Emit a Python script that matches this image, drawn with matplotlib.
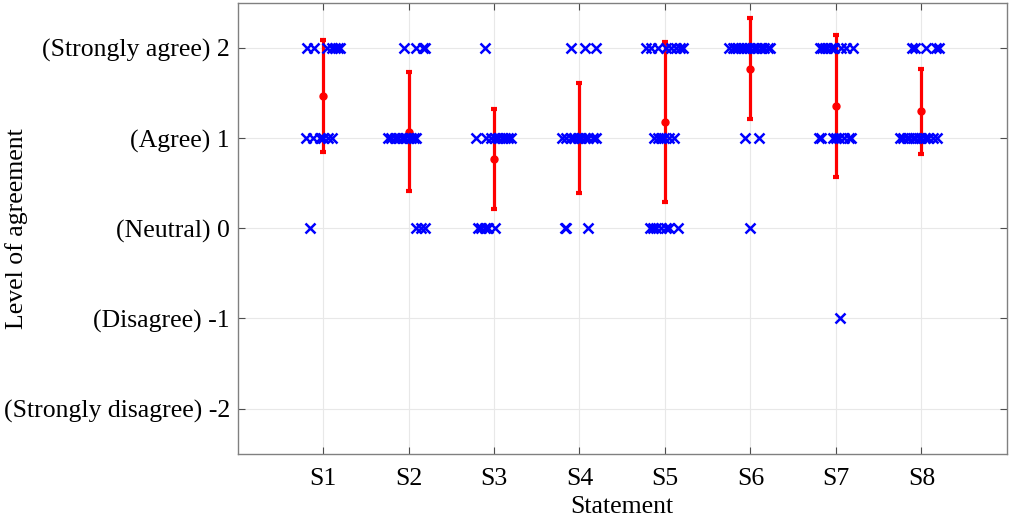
import numpy as np
import matplotlib
matplotlib.use("Agg")
import matplotlib.pyplot as plt

statements = ["S1", "S2", "S3", "S4", "S5", "S6", "S7", "S8"]
level_labels = ["(Strongly disagree) -2", "(Disagree) -1", "(Neutral) 0",
                "(Agree) 1", "(Strongly agree) 2"]
levels = [-2, -1, 0, 1, 2]

# answers of each statement: response level and horizontal jitter
resp_s1 = [2, 2, 2, 2, 2, 2, 2, 1, 1, 1, 1, 1, 1, 0]
jit_s1 = [-0.19, -0.11, 0.05, 0.10, 0.14, 0.17, 0.20, -0.20, -0.12, -0.04, 0.0, 0.06, 0.10, -0.15]
resp_s2 = [2, 2, 2, 2, 1, 1, 1, 1, 1, 1, 1, 1, 1, 1, 0, 0, 0]
jit_s2 = [-0.05, 0.085, 0.17, 0.19, -0.24, -0.2, -0.16, -0.12, -0.08, -0.04, 0.0, 0.03, 0.06, 0.09,
          0.09, 0.15, 0.19]
resp_s3 = [2, 1, 1, 1, 1, 1, 1, 1, 1, 1, 0, 0, 0, 0, 0]
jit_s3 = [-0.10, -0.21, -0.09, -0.03, 0.01, 0.05, 0.09, 0.125, 0.16, 0.2, -0.19, -0.15, -0.11, -0.07, 0.01]
resp_s4 = [2, 2, 2, 1, 1, 1, 1, 1, 1, 1, 1, 1, 1, 0, 0, 0]
jit_s4 = [-0.10, 0.07, 0.19, -0.21, -0.156, -0.10, -0.06, -0.02, 0.02, 0.06, 0.1, 0.155, 0.195,
          -0.175, -0.155, 0.10]
resp_s5 = [2, 2, 2, 2, 2, 2, 2, 2, 1, 1, 1, 1, 1, 1, 0, 0, 0, 0, 0, 0, 0]
jit_s5 = [-0.22, -0.165, -0.086, 0.01, 0.07, 0.13, 0.17, 0.21, -0.125, -0.086, -0.047, -0.008, 0.05, 0.11,
          -0.18, -0.145, -0.105, -0.047, 0.01, 0.05, 0.15]
resp_s6 = [2, 2, 2, 2, 2, 2, 2, 2, 2, 2, 2, 2, 2, 2, 1, 1, 0]
jit_s6 = [-0.25, -0.21, -0.18, -0.14, -0.11, -0.07, -0.04, 0.0, 0.04, 0.08, 0.12, 0.16, 0.2, 0.23,
          -0.06, 0.1, 0.0]
resp_s7 = [2, 2, 2, 2, 2, 2, 2, 2, 2, 1, 1, 1, 1, 1, 1, 1, 1, -1]
jit_s7 = [-0.19, -0.16, -0.125, -0.1, -0.06, -0.02, 0.06, 0.115, 0.195,
          -0.2, -0.175, -0.04, 0.0, 0.04, 0.1, 0.155, 0.175, 0.05]
resp_s8 = [2, 2, 2, 2, 2, 1, 1, 1, 1, 1, 1, 1, 1, 1, 1, 1, 1]
jit_s8 = [-0.11, -0.07, 0.05, 0.165, 0.2, -0.245, -0.21, -0.17, -0.14, -0.1, -0.07, -0.03, 0.0,
          0.04, 0.08, 0.13, 0.18]

responses = [resp_s1, resp_s2, resp_s3, resp_s4, resp_s5, resp_s6, resp_s7, resp_s8]
jitters = [jit_s1, jit_s2, jit_s3, jit_s4, jit_s5, jit_s6, jit_s7, jit_s8]

# mean and standard deviation per statement
means = [1.47, 1.07, 0.77, 1.0, 1.18, 1.77, 1.36, 1.30]
stds = [0.62, 0.66, 0.56, 0.61, 0.885, 0.56, 0.79, 0.47]

plt.rcParams['font.family'] = ['Liberation Serif', 'DejaVu Serif']

fig = plt.figure(figsize=(10.13, 5.19), dpi=100)
ax = fig.add_axes([0.2345, 0.126, 0.7595, 0.868])

pos = np.arange(1, len(statements) + 1)
ax.errorbar(pos, means, yerr=stds, fmt='o', color='red', ms=5, lw=2.3,
            capsize=2, capthick=3, zorder=2)
for i, (r, j) in enumerate(zip(responses, jitters)):
    ax.plot(pos[i] + np.array(j), r, 'x', color='blue', ms=6.5, mew=1.8, zorder=3)

ax.set_xlim(0, 9)
ax.set_ylim(-2.5, 2.5)
ax.set_xticks(pos)
ax.set_xticklabels(statements)
ax.set_yticks(levels)
ax.set_yticklabels(level_labels)
ax.tick_params(direction='in', top=True, right=True, labelsize=18.5, colors='#4d4d4d',
               labelcolor='black', length=5, width=0.8)
ax.tick_params(axis='x', pad=10.5)
ax.tick_params(axis='y', pad=5.5)
ax.grid(True, color='#e8e8e8', lw=0.8)
ax.set_axisbelow(True)
for s in ax.spines.values():
    s.set_color('#808080')
    s.set_linewidth(1.0)
ax.set_xlabel("Statement", fontsize=18.5, va='top')
ax.xaxis.set_label_coords(0.5, -0.095)
ax.set_ylabel("Level of agreement", fontsize=18.5)
ax.yaxis.set_label_coords(-0.272, 0.5)

plt.savefig("out.png", dpi=100)
